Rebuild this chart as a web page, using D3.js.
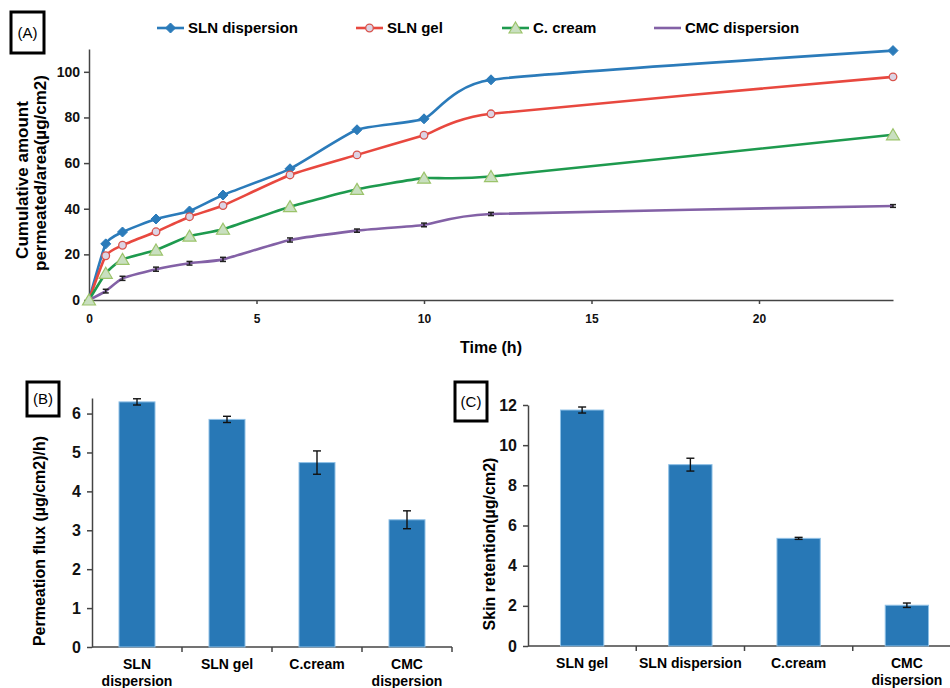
<!DOCTYPE html>
<html>
<head>
<meta charset="utf-8">
<script src="https://cdn.jsdelivr.net/npm/d3@7"></script>
<style>
  body { margin: 0; background: #fff; }
  text { font-family: "Liberation Sans", Arial, sans-serif; }
  .axis path, .axis line { stroke: #444; stroke-width: 1.5px; }
  .axis text { font-weight: bold; fill: #111; }
</style>
</head>
<body>
<div id="chart"></div>
<script>
// Panel A data: cumulative amount permeated over time
var timeHours     = [0, 0.5, 1, 2, 3, 4, 6, 8, 10, 12, 24];
var slnDispersion = [0, 24.6, 29.8, 35.5, 39.0, 46.0, 57.5, 74.6, 79.4, 96.5, 109.3];
var slnGel        = [0, 19.4, 24.0, 29.9, 36.5, 41.4, 54.8, 63.6, 72.2, 81.6, 97.8];
var cCream        = [0, 11.7, 17.8, 21.9, 28.0, 31.0, 40.9, 48.5, 53.4, 54.1, 72.4];
var cmcDispersion = [0, 3.9, 9.5, 13.5, 16.1, 17.8, 26.3, 30.4, 32.9, 37.7, 41.2];
var cmcError      = [0, 0.8, 0.9, 0.9, 0.8, 0.9, 0.9, 0.7, 0.8, 0.7, 0.6];
var seriesNames   = ["SLN dispersion", "SLN gel", "C. cream", "CMC dispersion"];
var timeTicks     = [0, 5, 10, 15, 20];
var amountTicks   = [0, 20, 40, 60, 80, 100];

// Panel B data: permeation flux
var fluxCategories = [["SLN", "dispersion"], ["SLN gel"], ["C.cream"], ["CMC", "dispersion"]];
var fluxValues     = [6.30, 5.85, 4.74, 3.27];
var fluxErrors     = [0.08, 0.08, 0.30, 0.23];
var fluxTicks      = [0, 1, 2, 3, 4, 5, 6];

// Panel C data: skin retention
var retentionCategories = [["SLN gel"], ["SLN dispersion"], ["C.cream"], ["CMC", "dispersion"]];
var retentionValues     = [11.75, 9.03, 5.36, 2.03];
var retentionErrors     = [0.15, 0.32, 0.05, 0.11];
var retentionTicks      = [0, 2, 4, 6, 8, 10, 12];

var W = 950, H = 688;
var svg = d3.select("#chart").append("svg")
    .attr("width", W).attr("height", H);

function panelLabel(label, x, y, w, h) {
  svg.append("rect")
      .attr("x", x).attr("y", y).attr("width", w).attr("height", h)
      .attr("fill", "none").attr("stroke", "#000").attr("stroke-width", 3);
  svg.append("text")
      .attr("x", x + w / 2).attr("y", y + h / 2)
      .attr("dy", "0.35em").attr("text-anchor", "middle")
      .style("font-size", "15px").text(label);
}

// ---------- Panel A ----------
var colors = ["#2b7bba", "#e8483f", "#1e9a4e", "#8361a6"];
var allSeries = [slnDispersion, slnGel, cCream, cmcDispersion];

var xA = d3.scaleLinear().domain([0, 24]).range([89, 893]);
var yA = d3.scaleLinear().domain([0, 110]).range([300, 49]);

svg.append("g")
    .attr("class", "axis")
    .attr("transform", "translate(0," + yA(0) + ")")
    .call(d3.axisBottom(xA).tickValues(timeTicks).tickSize(4).tickSizeOuter(0).tickPadding(10))
    .selectAll("text").style("font-size", "12px");

svg.append("g")
    .attr("class", "axis")
    .attr("transform", "translate(" + xA(0) + ",0)")
    .call(d3.axisLeft(yA).tickValues(amountTicks).tickSize(5).tickSizeOuter(0).tickPadding(4))
    .selectAll("text").style("font-size", "14px");

// smoothed lines, like the spreadsheet's "smooth line" option
var line = d3.line()
    .x(function(d, i) { return xA(timeHours[i]); })
    .y(function(d) { return yA(d); })
    .curve(d3.curveCardinal.tension(0.5));

allSeries.forEach(function(s, k) {
  svg.append("path")
      .attr("d", line(s))
      .attr("fill", "none")
      .attr("stroke", colors[k])
      .attr("stroke-width", 2.6);
});

// CMC error bars (drawn as its markers)
var errG = svg.append("g");
cmcDispersion.forEach(function(v, i) {
  if (i === 0) return;
  var cx = xA(timeHours[i]);
  var yt = yA(v + cmcError[i]), yb = yA(v - cmcError[i]);
  errG.append("line").attr("x1", cx).attr("x2", cx).attr("y1", yt).attr("y2", yb)
      .attr("stroke", "#222").attr("stroke-width", 1.5);
  [yt, yb].forEach(function(yy) {
    errG.append("line").attr("x1", cx - 3).attr("x2", cx + 3).attr("y1", yy).attr("y2", yy)
        .attr("stroke", "#222").attr("stroke-width", 1.5);
  });
});

function drawMarker(g, kind, cx, cy) {
  if (kind === 0) {
    g.append("path")
        .attr("d", "M" + cx + "," + (cy - 5) + "L" + (cx + 5) + "," + cy + "L" + cx + "," + (cy + 5) + "L" + (cx - 5) + "," + cy + "Z")
        .attr("fill", colors[0]).attr("stroke", colors[0]).attr("stroke-width", 1);
  } else if (kind === 1) {
    g.append("circle").attr("cx", cx).attr("cy", cy).attr("r", 3.8)
        .attr("fill", "#dcd4e4").attr("stroke", "#d9534c").attr("stroke-width", 1.3);
  } else if (kind === 2) {
    g.append("path")
        .attr("d", "M" + cx + "," + (cy - 6) + "L" + (cx + 6.5) + "," + (cy + 5) + "L" + (cx - 6.5) + "," + (cy + 5) + "Z")
        .attr("fill", "#c9dfc0").attr("stroke", "#9bc36a").attr("stroke-width", 1.2);
  }
}

var markG = svg.append("g");
[0, 1, 2].forEach(function(k) {
  allSeries[k].forEach(function(v, i) {
    if (k < 2 && i === 0) return;
    drawMarker(markG, k, xA(timeHours[i]), yA(v));
  });
});

// legend
var legendX = [157, 356, 502, 654];
seriesNames.forEach(function(name, k) {
  var lx = legendX[k], ly = 28;
  svg.append("line").attr("x1", lx).attr("x2", lx + 27).attr("y1", ly).attr("y2", ly)
      .attr("stroke", colors[k]).attr("stroke-width", 2.6);
  if (k < 3) drawMarker(svg, k, lx + 13.5, ly);
  svg.append("text").attr("x", lx + 31).attr("y", ly).attr("dy", "0.36em")
      .style("font-size", "15px").style("font-weight", "bold").text(name);
});

svg.append("text")
    .attr("transform", "translate(28,180) rotate(-90)")
    .attr("text-anchor", "middle")
    .style("font-size", "17px").style("font-weight", "bold")
    .text("Cumulative amount");
svg.append("text")
    .attr("transform", "translate(46,173) rotate(-90)")
    .attr("text-anchor", "middle")
    .style("font-size", "17px").style("font-weight", "bold")
    .text("permeated/area(µg/cm2)");

svg.append("text")
    .attr("x", 491).attr("y", 353).attr("text-anchor", "middle")
    .style("font-size", "16px").style("font-weight", "bold")
    .text("Time (h)");

panelLabel("(A)", 11, 12, 33, 41);

// ---------- Bar panels ----------
function barPanel(opts) {
  var x = d3.scaleBand().domain(d3.range(opts.values.length))
      .range([opts.x0, opts.x1]).paddingInner(0.6).paddingOuter(0.3);
  var y = d3.scaleLinear().domain(opts.domain).range([opts.y0, opts.y1]);

  // y axis
  svg.append("g")
      .attr("class", "axis")
      .attr("transform", "translate(" + opts.x0 + ",0)")
      .call(d3.axisLeft(y).tickValues(opts.ticks).tickFormat(d3.format("d"))
        .tickSize(5).tickSizeOuter(0).tickPadding(6))
      .selectAll("text").style("font-size", "16px");

  // x axis line with ticks on category boundaries
  var xg = svg.append("g").attr("class", "axis");
  xg.append("line").attr("x1", opts.x0).attr("x2", opts.x1)
      .attr("y1", opts.y0).attr("y2", opts.y0);
  d3.range(1, opts.values.length + 1).forEach(function(i) {
    var bx = opts.x0 + i * x.step();
    xg.append("line").attr("x1", bx).attr("x2", bx)
        .attr("y1", opts.y0).attr("y2", opts.y0 + 5);
  });

  var bars = svg.append("g");
  opts.values.forEach(function(v, i) {
    bars.append("rect")
        .attr("x", x(i)).attr("y", y(v))
        .attr("width", x.bandwidth()).attr("height", y(0) - y(v))
        .attr("fill", "#2878b6").attr("stroke", "#8fc0e6").attr("stroke-width", 1);
    var cx = x(i) + x.bandwidth() / 2;
    var yt = y(v + opts.errors[i]), yb = y(v - opts.errors[i]);
    bars.append("line").attr("x1", cx).attr("x2", cx).attr("y1", yt).attr("y2", yb)
        .attr("stroke", "#111").attr("stroke-width", 1.4);
    [yt, yb].forEach(function(yy) {
      bars.append("line").attr("x1", cx - 4).attr("x2", cx + 4).attr("y1", yy).attr("y2", yy)
          .attr("stroke", "#111").attr("stroke-width", 1.4);
    });
    var t = svg.append("text")
        .attr("x", cx).attr("y", opts.y0 + 22).attr("text-anchor", "middle")
        .style("font-size", "14px").style("font-weight", "bold");
    opts.categories[i].forEach(function(part, j) {
      t.append("tspan").attr("x", cx).attr("dy", j === 0 ? 0 : 17).text(part);
    });
  });

  svg.append("text")
      .attr("transform", "translate(" + opts.titleX + "," + opts.titleY + ") rotate(-90)")
      .attr("text-anchor", "middle")
      .style("font-size", "16px").style("font-weight", "bold")
      .text(opts.title);
}

barPanel({
  x0: 92, x1: 452, y0: 647, y1: 398, domain: [0, 6.4],
  values: fluxValues, errors: fluxErrors, categories: fluxCategories,
  ticks: fluxTicks, title: "Permeation flux (µg/cm2)/h)", titleX: 45, titleY: 541
});
panelLabel("(B)", 27, 382, 32, 34);

barPanel({
  x0: 528, x1: 961, y0: 646, y1: 405, domain: [0, 12],
  values: retentionValues, errors: retentionErrors, categories: retentionCategories,
  ticks: retentionTicks, title: "Skin retention(µg/cm2)", titleX: 495, titleY: 544
});
panelLabel("(C)", 455, 382, 32, 39);
</script>
</body>
</html>
